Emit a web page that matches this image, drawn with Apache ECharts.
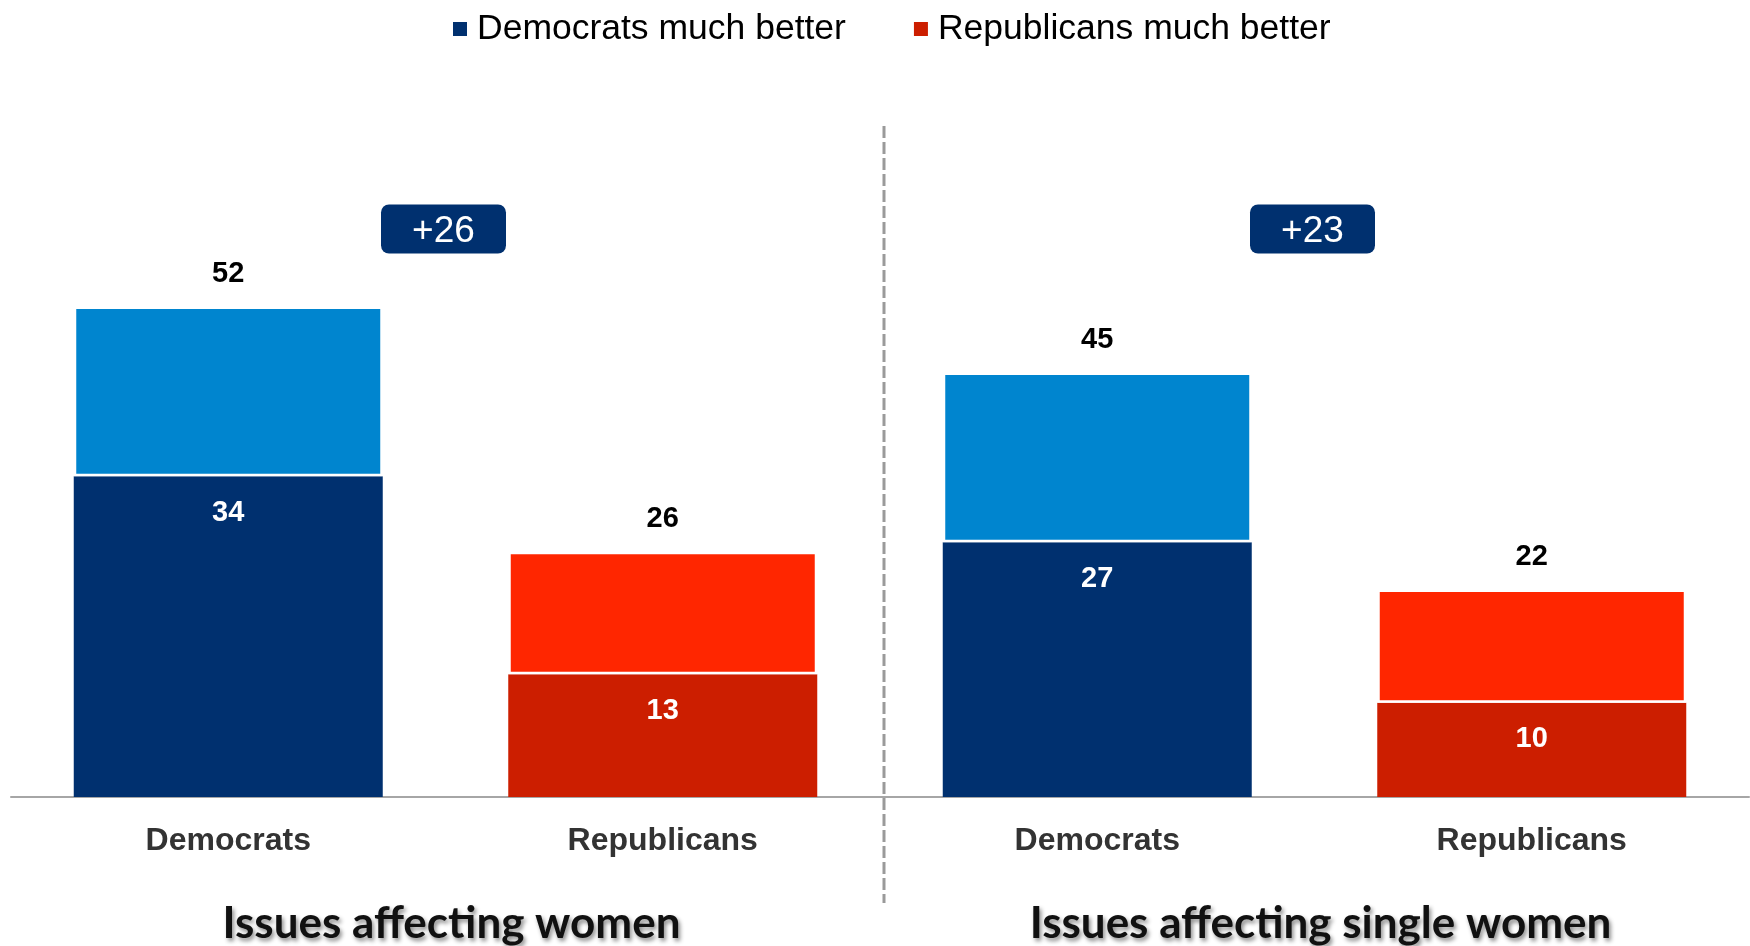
<!DOCTYPE html>
<html>
<head>
<meta charset="utf-8">
<script src="https://cdn.jsdelivr.net/npm/echarts@6/dist/echarts.min.js"></script>
<style>
html,body{margin:0;padding:0;background:#fff;}
#c{width:1750px;height:946px;}
</style>
</head>
<body>
<div id="c"></div>
<script>
// ---- data ----
const categories = ['Democrats', 'Republicans'];
const panelTitles = ['Issues affecting women', 'Issues affecting single women'];
const legendNames = ['Democrats much better', 'Republicans much better'];
const restNames = ['Democrats somewhat better', 'Republicans somewhat better'];
const womenMuchBetter = [34, 13];
const womenTotal = [52, 26];
const singleMuchBetter = [27, 10];
const singleTotal = [45, 22];

// ---- styles ----
const darkColors = ['#00306F', '#CC1E00'];
const lightColors = ['#0085CF', '#FF2600'];
const panels = [
  { much: womenMuchBetter, total: womenTotal },
  { much: singleMuchBetter, total: singleTotal }
];
const GRID_LEFT = [11, 880];
const GRID_W = 869;
const GRID_TOP = 231;
const GRID_BOTTOM = 149;
const Y_MAX = 60;
const FONT = '"Liberation Sans", Arial, sans-serif';

const chart = echarts.init(document.getElementById('c'), null, { renderer: 'canvas' });

const series = [];
panels.forEach((p, pi) => {
  categories.forEach((cat, ci) => {
    series.push({
      type: 'bar', name: legendNames[ci], xAxisIndex: pi, yAxisIndex: pi,
      stack: 'p' + pi, barWidth: 309,
      data: categories.map((_, j) => j === ci ? p.much[j] : '-'),
      itemStyle: { color: darkColors[ci] },
      label: { show: true, position: 'insideTop', distance: 22, color: '#fff',
        fontWeight: 'bold', fontSize: 29, fontFamily: FONT },
      emphasis: { disabled: true }
    });
    series.push({
      type: 'bar', name: restNames[ci], xAxisIndex: pi, yAxisIndex: pi,
      stack: 'p' + pi, barWidth: 309,
      data: categories.map((_, j) => j === ci ? p.total[j] - p.much[j] : '-'),
      itemStyle: { color: lightColors[ci], borderColor: '#fff', borderWidth: 2.5 },
      label: { show: true, position: 'top', distance: 18, color: '#000',
        fontWeight: 'bold', fontSize: 29, fontFamily: FONT,
        formatter: () => String(p.total[ci]) },
      emphasis: { disabled: true }
    });
  });
});

const grids = GRID_LEFT.map(l => ({ left: l, width: GRID_W, top: GRID_TOP, bottom: GRID_BOTTOM }));
const xAxes = GRID_LEFT.map((_, i) => ({
  type: 'category', gridIndex: i, data: categories,
  axisTick: { show: false },
  axisLine: { lineStyle: { color: '#A6A6A6', width: 2 } },
  axisLabel: { margin: 28, fontSize: 32, fontWeight: 'bold', color: '#333', fontFamily: FONT }
}));
const yAxes = GRID_LEFT.map((_, i) => ({
  type: 'value', gridIndex: i, min: 0, max: Y_MAX, show: false, splitLine: { show: false }
}));

const centers = GRID_LEFT.map(l => l + GRID_W / 2);
const badgeW = 125, badgeH = 49, badgeCY = 229;
const graphics = [];
panels.forEach((p, pi) => {
  const diff = p.total[0] - p.total[1];
  graphics.push({
    type: 'group', x: centers[pi] - badgeW / 2 - 2, y: badgeCY - badgeH / 2,
    children: [
      { type: 'rect', shape: { x: 0, y: 0, width: badgeW, height: badgeH, r: 8 },
        style: { fill: '#00306F' } },
      { type: 'text', x: badgeW / 2, y: badgeH / 2 + 3,
        style: { text: '+' + diff, fill: '#fff', font: '37px ' + FONT,
          align: 'center', verticalAlign: 'middle' } }
    ]
  });
});
graphics.push({
  type: 'line', shape: { x1: 884, y1: 126, x2: 884, y2: 903 },
  style: { stroke: '#9A9A9A', lineWidth: 3, lineDash: [12, 4] }
});

chart.setOption({
  animation: false,
  backgroundColor: '#fff',
  legend: {
    data: legendNames, left: 448, top: 6, icon: 'rect', itemWidth: 14, itemHeight: 14,
    itemGap: 68,
    textStyle: { fontSize: 35.5, color: '#000', fontFamily: FONT, padding: [0, 0, 0, 5] }
  },
  title: panelTitles.map((t, i) => ({
    text: t, left: centers[i] + 1, top: 897, textAlign: 'center',
    textStyle: { fontSize: 44, fontWeight: 'bold', color: '#111', fontFamily: 'Lato, sans-serif',
      textShadowColor: 'rgba(0,0,0,0.45)', textShadowBlur: 4, textShadowOffsetX: 2, textShadowOffsetY: 3 }
  })),
  grid: grids, xAxis: xAxes, yAxis: yAxes, series: series,
  graphic: graphics
});
</script>
</body>
</html>
